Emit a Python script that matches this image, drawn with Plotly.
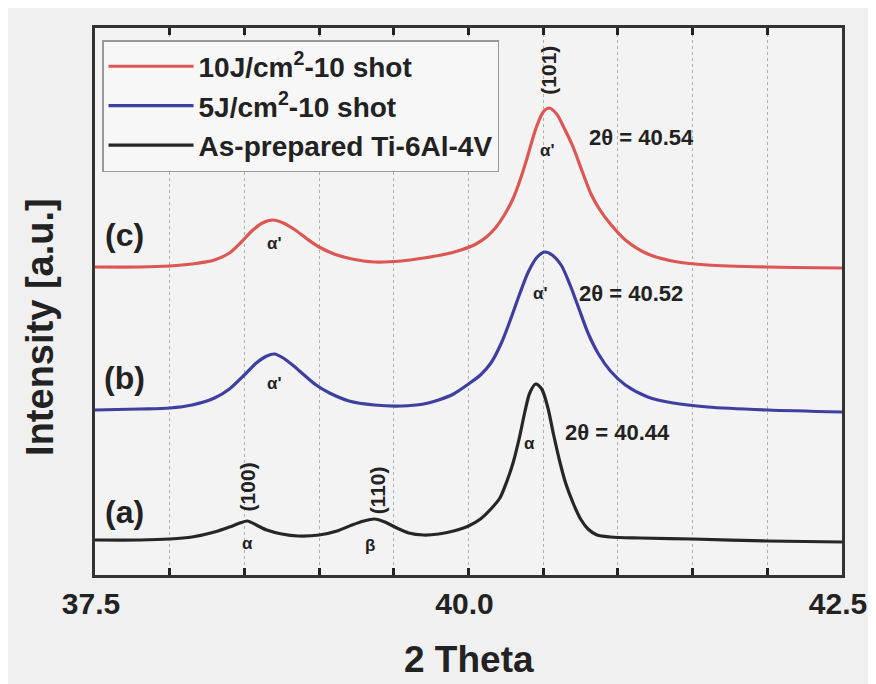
import plotly.graph_objects as go

# ---------------- data ----------------
x_a = [37.5, 37.8, 38.0, 38.15, 38.3, 38.4, 38.47, 38.52, 38.58, 38.65, 38.75, 38.86, 39.0, 39.12,
       39.22, 39.3, 39.37, 39.44, 39.52, 39.6, 39.7, 39.8, 39.9, 40.0, 40.08, 40.15, 40.21, 40.26,
       40.3, 40.34, 40.38, 40.41, 40.45, 40.49, 40.53, 40.57, 40.61, 40.65, 40.7, 40.75, 40.8,
       40.86, 40.95, 41.15, 41.5, 42.0, 42.5]
y_a = [35, 35, 36, 38, 43, 48, 52, 54, 50, 45, 41, 39, 40, 44,
       50, 54, 56, 53, 47, 42, 40, 41, 44, 49, 56, 66, 77, 95,
       113, 137, 165, 182, 191, 186, 168, 140, 114, 92, 72, 56, 46,
       40, 38, 37, 36, 34, 33]

x_b = [37.5, 37.8, 38.0, 38.15, 38.3, 38.4, 38.5, 38.58, 38.65, 38.7, 38.76, 38.83, 38.9, 38.98,
       39.07, 39.2, 39.37, 39.55, 39.7, 39.8, 39.9, 40.0, 40.08, 40.15, 40.22, 40.28, 40.34, 40.4,
       40.46, 40.51, 40.56, 40.62, 40.68, 40.74, 40.8, 40.87, 40.95, 41.05, 41.2, 41.37, 41.6,
       42.0, 42.5]
y_b = [165, 166, 167, 170, 177, 186, 200, 212, 219, 221, 217, 209, 200, 190,
       182, 174, 170, 169, 171, 175, 181, 191, 200, 212, 232, 255, 280, 303,
       318, 323, 320, 310, 290, 266, 242, 221, 204, 190, 178, 172, 168,
       165, 163]

x_c = [37.5, 37.8, 38.0, 38.15, 38.3, 38.4, 38.48, 38.55, 38.62, 38.69, 38.76, 38.84, 38.92, 39.0,
       39.1, 39.22, 39.37, 39.55, 39.7, 39.85, 39.95, 40.05, 40.12, 40.18, 40.24, 40.3, 40.35,
       40.4, 40.45, 40.5, 40.54, 40.59, 40.64, 40.7, 40.76, 40.82, 40.88, 40.95, 41.05, 41.2,
       41.4, 41.6, 42.0, 42.5]
y_c = [308, 308, 309, 311, 315, 322, 333, 344, 352, 355, 352, 345, 336, 328,
       321, 316, 313, 314, 317, 321, 325, 331, 338, 347, 360, 377, 397,
       421, 446, 463, 467, 461, 447, 428, 404, 381, 365, 351, 335, 321,
       313, 310, 308, 307]

series_names = ["10J/cm<sup>2</sup>-10 shot", "5J/cm<sup>2</sup>-10 shot", "As-prepared Ti-6Al-4V"]
curve_labels = ["(c)", "(b)", "(a)"]
peak_labels = ["2θ = 40.54", "2θ = 40.52", "2θ = 40.44"]

tick_vals = [37.5, 40.0, 42.5]
tick_text = ["37.5", "40.0", "42.5"]

# ---------------- figure ----------------
FONT = "Liberation Sans, Arial, sans-serif"
colors = ["#dc5753", "#3f3f9f", "#262626"]

fig = go.Figure()
for xs, ys, name, col in [(x_c, y_c, series_names[0], colors[0]),
                          (x_b, y_b, series_names[1], colors[1]),
                          (x_a, y_a, series_names[2], colors[2])]:
    fig.add_trace(go.Scatter(x=xs, y=ys, mode="lines", name=name,
                             line=dict(color=col, width=3.2, shape="spline", smoothing=0.8)))

def ann(x, y, text, size, angle=0):
    return dict(x=x, y=y, xref="x", yref="y", text=text, showarrow=False, textangle=angle,
                xanchor="center", yanchor="middle",
                font=dict(family=FONT, size=size, color="#222222", weight="bold"))

annotations = [
    ann(37.70, 340, curve_labels[0], 32),
    ann(37.70, 197, curve_labels[1], 32),
    ann(37.70, 63, curve_labels[2], 32),
    ann(40.53, 505, "(101)", 21, -90),
    ann(40.53, 425, "α'", 17),
    ann(41.16, 438, peak_labels[0], 22),
    ann(40.48, 282, "α'", 17),
    ann(41.09, 282, peak_labels[1], 22),
    ann(40.41, 132, "α", 17),
    ann(41.00, 143, peak_labels[2], 22),
    ann(38.70, 332, "α'", 17),
    ann(38.70, 192, "α'", 17),
    ann(38.52, 88, "(100)", 21, -90),
    ann(38.52, 32, "α", 17),
    ann(39.39, 85, "(110)", 21, -90),
    ann(39.34, 30, "β", 17),
]
# axis titles
annotations.append(dict(x=0.5, y=-0.155, xref="paper", yref="paper", text="2 Theta", showarrow=False,
                        xanchor="center", yanchor="middle",
                        font=dict(family=FONT, size=37, color="#222222", weight="bold")))
annotations.append(dict(x=-0.074, y=0.453, xref="paper", yref="paper", text="Intensity [a.u.]",
                        showarrow=False, textangle=-90, xanchor="center", yanchor="middle",
                        font=dict(family=FONT, size=38, color="#222222", weight="bold")))

fig.update_layout(
    width=868, height=676,
    margin=dict(l=87, r=34, t=20, b=109),
    paper_bgcolor="#f0f0f0", plot_bgcolor="#f3f3f3",
    font=dict(family=FONT, color="#222222"),
    showlegend=True,
    legend=dict(x=0.0094, y=0.978, xanchor="left", yanchor="top",
                bgcolor="#f7f7f7", bordercolor="#999999", borderwidth=1.5,
                font=dict(family=FONT, size=28, color="#222222", weight="bold"),
                itemwidth=85, tracegroupgap=0),
    annotations=annotations,
)
fig.update_xaxes(range=[37.5, 42.5], tickvals=tick_vals, ticktext=tick_text,
                 ticks="inside", ticklen=7, tickwidth=2.5, tickcolor="#222222",
                 minor=dict(tick0=37.5, dtick=0.5, ticks="inside", ticklen=7, tickwidth=2.5,
                            tickcolor="#222222", showgrid=True, gridcolor="#b0b0b0",
                            griddash="dot", gridwidth=1),
                 showline=True, linewidth=3, linecolor="#333333", mirror="ticks",
                 showgrid=True, gridcolor="#b0b0b0", griddash="dot", gridwidth=1,
                 tickfont=dict(family=FONT, size=30, color="#222222", weight="bold"),
                 ticklabelshift=-4,
                 zeroline=False, automargin=False)
fig.update_yaxes(range=[0, 547], showticklabels=False, ticks="", showgrid=False,
                 showline=True, linewidth=3, linecolor="#333333", mirror=True,
                 zeroline=False, automargin=False)

fig.write_html("out.html")
